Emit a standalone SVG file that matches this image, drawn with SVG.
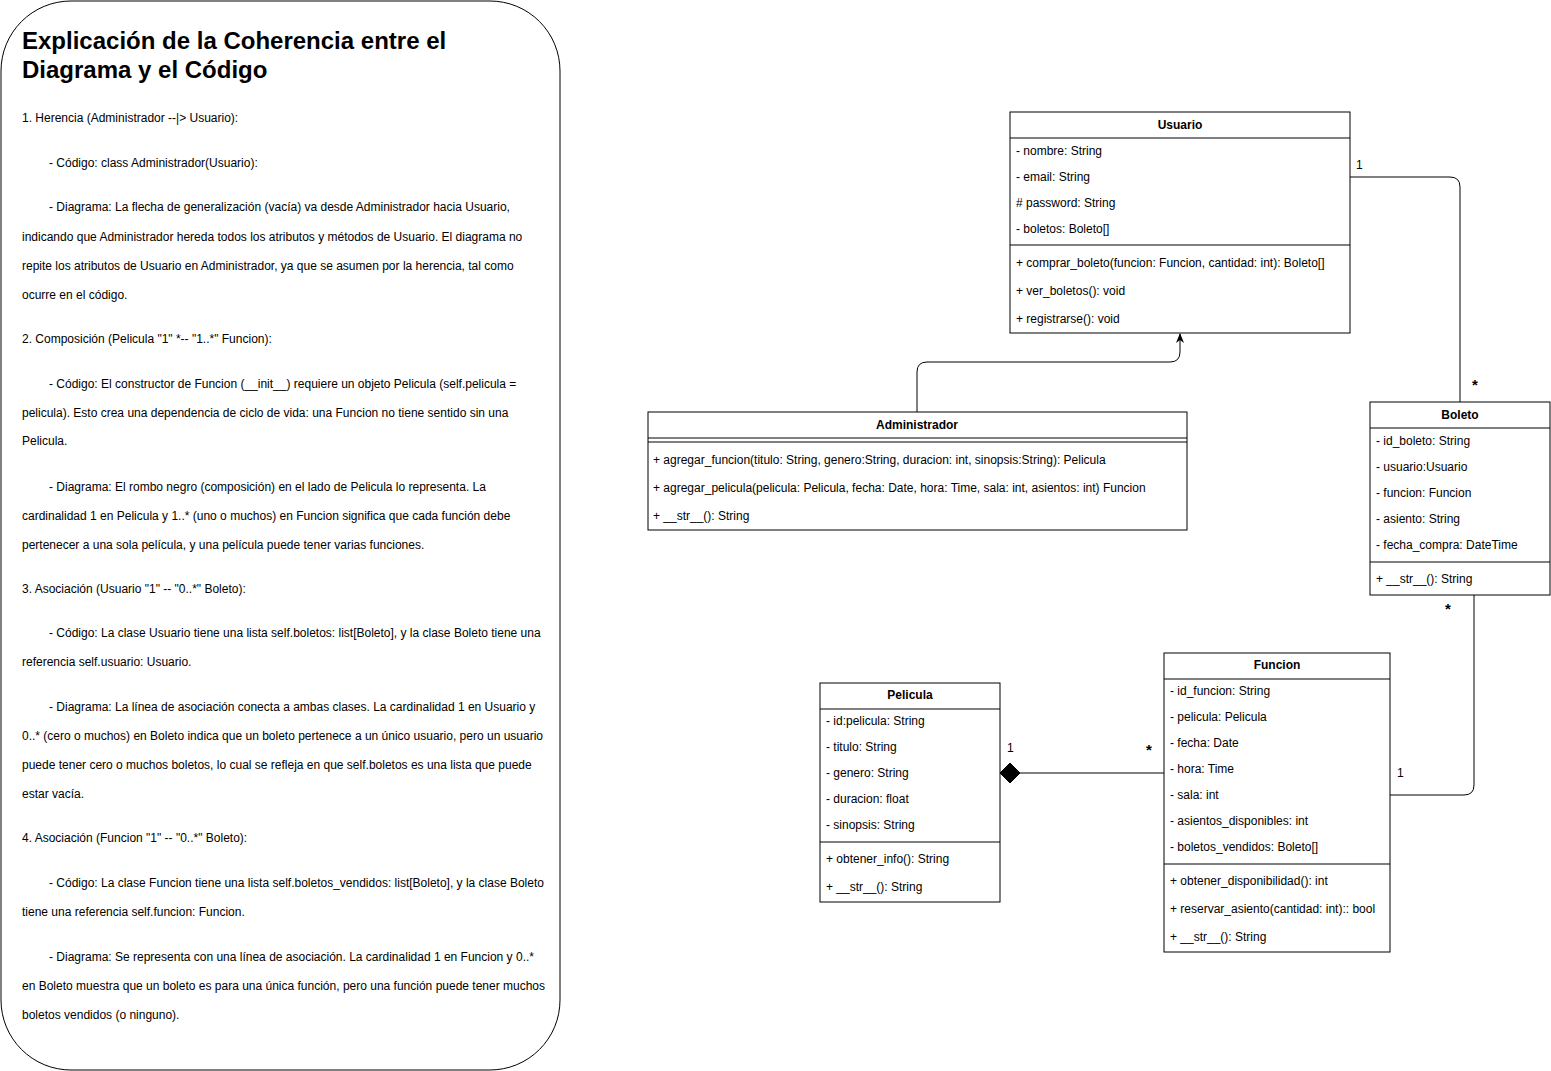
<svg xmlns="http://www.w3.org/2000/svg" width="1551" height="1071" viewBox="0 0 1551 1071">
<style>
text{font-family:"Liberation Sans",Arial,sans-serif;font-size:12px;fill:#000}
.h{font-weight:bold;text-anchor:middle}
.t{font-weight:bold;font-size:24px}
.box{fill:#fff;stroke:#000;stroke-width:1}
.ln{stroke:#000;stroke-width:1;fill:none}
.star{font-size:15px;font-weight:bold}
</style>
<defs>
<marker id="arr" viewBox="0 0 10 10" refX="9" refY="5" markerWidth="10" markerHeight="10" markerUnits="userSpaceOnUse" orient="auto">
<path d="M0,1 L10,5 L0,9 L3,5 Z" fill="#000"/>
</marker>
</defs>
<rect width="1551" height="1071" fill="#fff"/>

<g id="explicacion">
<rect x="1" y="1" width="559" height="1069" rx="70" ry="70" class="box"/>
<text class="t" x="22" y="49">Explicación de la Coherencia entre el</text>
<text class="t" x="22" y="78">Diagrama y el Código</text>
<text x="22" y="122">1. Herencia (Administrador --|&gt; Usuario):</text>
<text x="49" y="167">- Código: class Administrador(Usuario):</text>
<text x="49" y="211">- Diagrama: La flecha de generalización (vacía) va desde Administrador hacia Usuario,</text>
<text x="22" y="241">indicando que Administrador hereda todos los atributos y métodos de Usuario. El diagrama no</text>
<text x="22" y="270">repite los atributos de Usuario en Administrador, ya que se asumen por la herencia, tal como</text>
<text x="22" y="299">ocurre en el código.</text>
<text x="22" y="343">2. Composición (Pelicula "1" *-- "1..*" Funcion):</text>
<text x="49" y="388">- Código: El constructor de Funcion (__init__) requiere un objeto Pelicula (self.pelicula =</text>
<text x="22" y="417">pelicula). Esto crea una dependencia de ciclo de vida: una Funcion no tiene sentido sin una</text>
<text x="22" y="445">Pelicula.</text>
<text x="49" y="491">- Diagrama: El rombo negro (composición) en el lado de Pelicula lo representa. La</text>
<text x="22" y="520">cardinalidad 1 en Pelicula y 1..* (uno o muchos) en Funcion significa que cada función debe</text>
<text x="22" y="549">pertenecer a una sola película, y una película puede tener varias funciones.</text>
<text x="22" y="593">3. Asociación (Usuario "1" -- "0..*" Boleto):</text>
<text x="49" y="637">- Código: La clase Usuario tiene una lista self.boletos: list[Boleto], y la clase Boleto tiene una</text>
<text x="22" y="666">referencia self.usuario: Usuario.</text>
<text x="49" y="711">- Diagrama: La línea de asociación conecta a ambas clases. La cardinalidad 1 en Usuario y</text>
<text x="22" y="740">0..* (cero o muchos) en Boleto indica que un boleto pertenece a un único usuario, pero un usuario</text>
<text x="22" y="769">puede tener cero o muchos boletos, lo cual se refleja en que self.boletos es una lista que puede</text>
<text x="22" y="798">estar vacía.</text>
<text x="22" y="842">4. Asociación (Funcion "1" -- "0..*" Boleto):</text>
<text x="49" y="887">- Código: La clase Funcion tiene una lista self.boletos_vendidos: list[Boleto], y la clase Boleto</text>
<text x="22" y="916">tiene una referencia self.funcion: Funcion.</text>
<text x="49" y="961">- Diagrama: Se representa con una línea de asociación. La cardinalidad 1 en Funcion y 0..*</text>
<text x="22" y="990">en Boleto muestra que un boleto es para una única función, pero una función puede tener muchos</text>
<text x="22" y="1019">boletos vendidos (o ninguno).</text>
</g>

<g id="connectors">
<path class="ln" d="M917,412 V372 Q917,362 927,362 H1170 Q1180,362 1180,352 V334" marker-end="url(#arr)"/>
<path class="ln" d="M1350,177 H1450 Q1460,177 1460,187 V402"/>
<path class="ln" d="M1390,795 H1464 Q1474,795 1474,785 V595"/>
<path class="ln" d="M1020,773 H1164"/>
<polygon points="1000,773 1010,763 1020,773 1010,783" fill="#000" stroke="#000"/>
<text x="1356" y="169">1</text>
<text class="star" x="1472" y="390">*</text>
<text class="star" x="1445" y="614">*</text>
<text x="1397" y="777">1</text>
<text x="1007" y="752">1</text>
<text class="star" x="1146" y="755">*</text>
</g>

<g id="usuario">
<rect x="1010" y="112" width="340" height="221" class="box"/>
<line x1="1010" y1="138" x2="1350" y2="138" class="ln"/>
<line x1="1010" y1="245" x2="1350" y2="245" class="ln"/>
<text class="h" x="1180" y="129">Usuario</text>
<text x="1016" y="155">- nombre: String</text>
<text x="1016" y="181">- email: String</text>
<text x="1016" y="207"># password: String</text>
<text x="1016" y="233">- boletos: Boleto[]</text>
<text x="1016" y="267">+ comprar_boleto(funcion: Funcion, cantidad: int): Boleto[]</text>
<text x="1016" y="295">+ ver_boletos(): void</text>
<text x="1016" y="323">+ registrarse(): void</text>
</g>

<g id="administrador">
<rect x="648" y="412" width="539" height="118" class="box"/>
<line x1="648" y1="438" x2="1187" y2="438" class="ln"/>
<line x1="648" y1="442" x2="1187" y2="442" class="ln"/>
<text class="h" x="917" y="429">Administrador</text>
<text x="653" y="464">+ agregar_funcion(titulo: String, genero:String, duracion: int, sinopsis:String): Pelicula</text>
<text x="653" y="492">+ agregar_pelicula(pelicula: Pelicula, fecha: Date, hora: Time, sala: int, asientos: int) Funcion</text>
<text x="653" y="520">+ __str__(): String</text>
</g>

<g id="boleto">
<rect x="1370" y="402" width="180" height="193" class="box"/>
<line x1="1370" y1="428" x2="1550" y2="428" class="ln"/>
<line x1="1370" y1="562" x2="1550" y2="562" class="ln"/>
<text class="h" x="1460" y="419">Boleto</text>
<text x="1376" y="445">- id_boleto: String</text>
<text x="1376" y="471">- usuario:Usuario</text>
<text x="1376" y="497">- funcion: Funcion</text>
<text x="1376" y="523">- asiento: String</text>
<text x="1376" y="549">- fecha_compra: DateTime</text>
<text x="1376" y="583">+ __str__(): String</text>
</g>

<g id="funcion">
<rect x="1164" y="653" width="226" height="299" class="box"/>
<line x1="1164" y1="679" x2="1390" y2="679" class="ln"/>
<line x1="1164" y1="864" x2="1390" y2="864" class="ln"/>
<text class="h" x="1277" y="669">Funcion</text>
<text x="1170" y="695">- id_funcion: String</text>
<text x="1170" y="721">- pelicula: Pelicula</text>
<text x="1170" y="747">- fecha: Date</text>
<text x="1170" y="773">- hora: Time</text>
<text x="1170" y="799">- sala: int</text>
<text x="1170" y="825">- asientos_disponibles: int</text>
<text x="1170" y="851">- boletos_vendidos: Boleto[]</text>
<text x="1170" y="885">+ obtener_disponibilidad(): int</text>
<text x="1170" y="913">+ reservar_asiento(cantidad: int):: bool</text>
<text x="1170" y="941">+ __str__(): String</text>
</g>

<g id="pelicula">
<rect x="820" y="683" width="180" height="219" class="box"/>
<line x1="820" y1="709" x2="1000" y2="709" class="ln"/>
<line x1="820" y1="842" x2="1000" y2="842" class="ln"/>
<text class="h" x="910" y="699">Pelicula</text>
<text x="826" y="725">- id:pelicula: String</text>
<text x="826" y="751">- titulo: String</text>
<text x="826" y="777">- genero: String</text>
<text x="826" y="803">- duracion: float</text>
<text x="826" y="829">- sinopsis: String</text>
<text x="826" y="863">+ obtener_info(): String</text>
<text x="826" y="891">+ __str__(): String</text>
</g>
</svg>
